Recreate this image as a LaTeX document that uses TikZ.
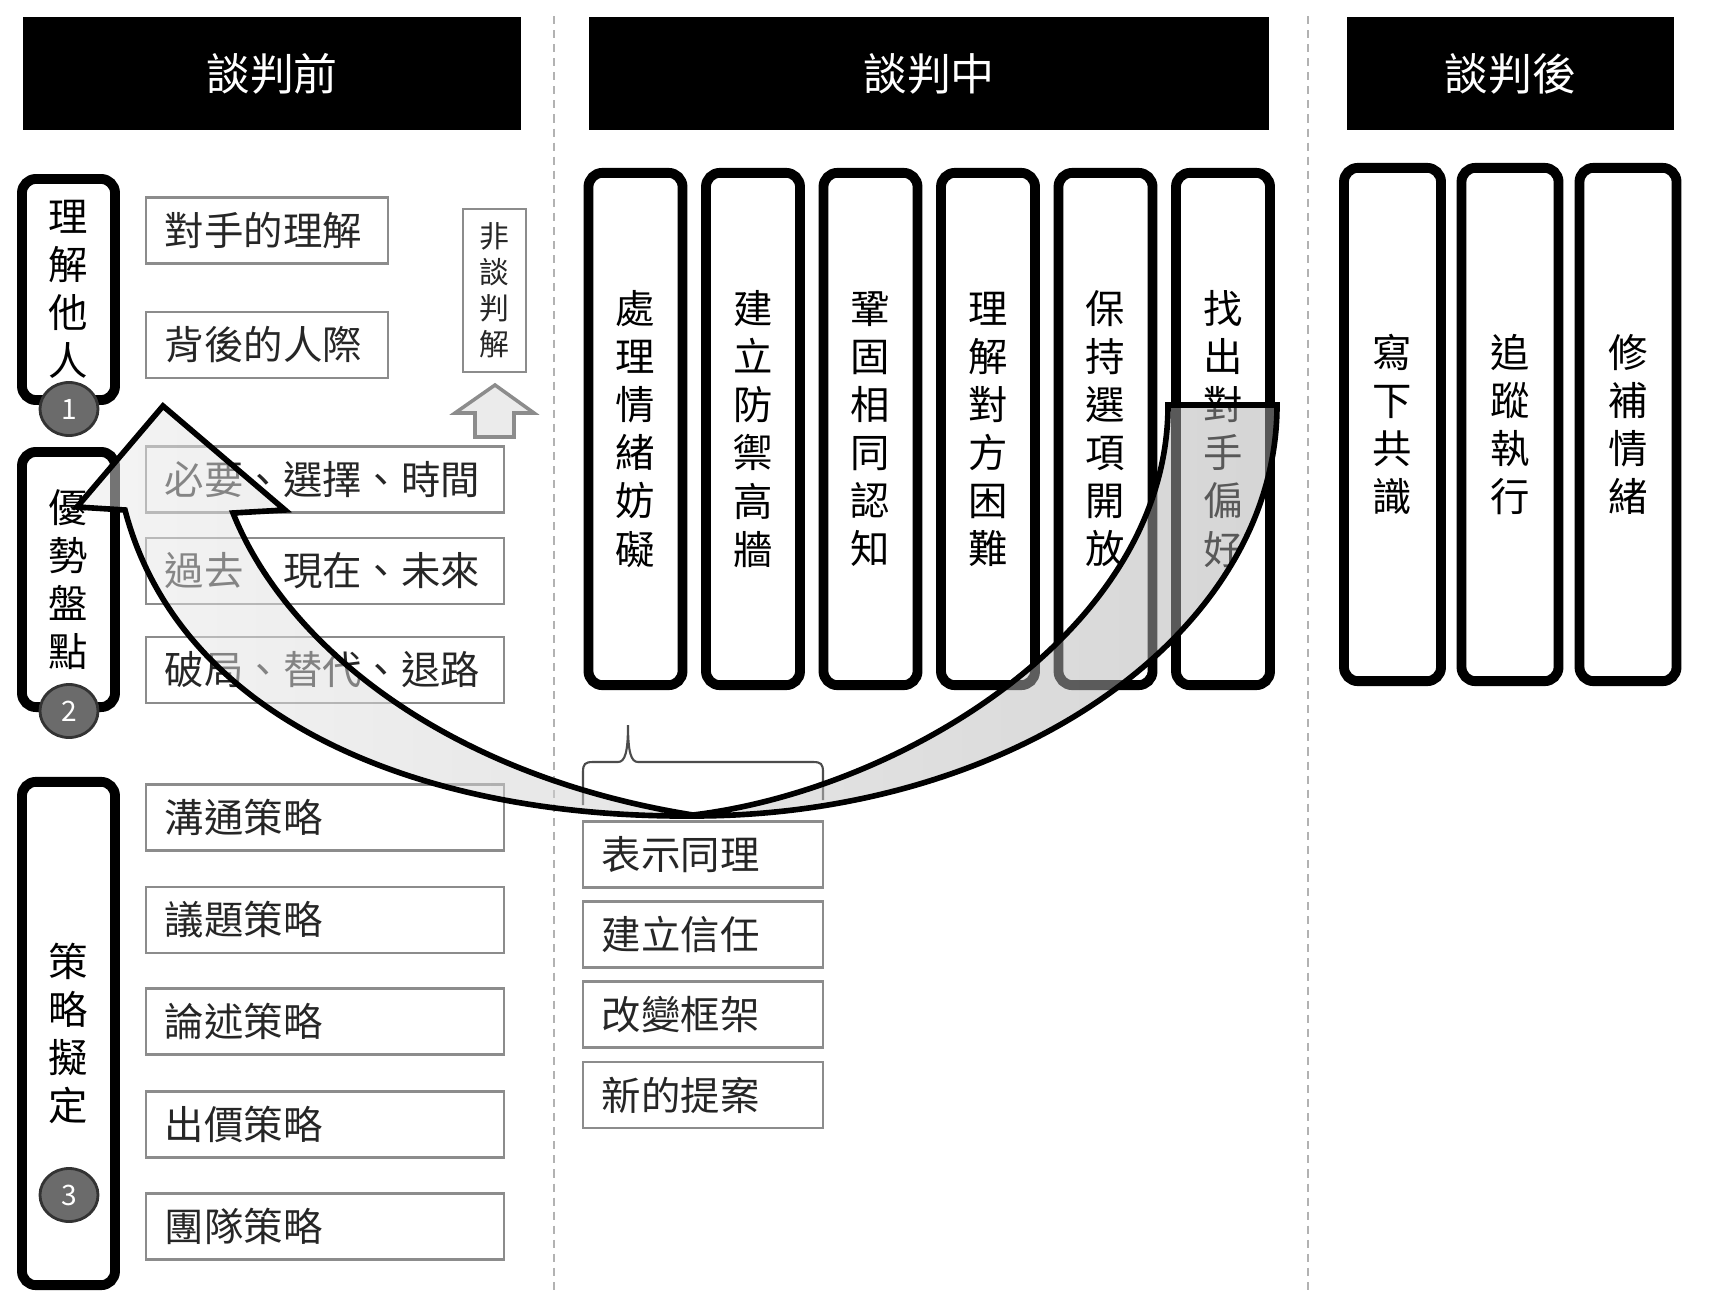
\documentclass[tikz,border=0pt]{standalone}
\usepackage{fontspec}
\setmainfont{Noto Sans CJK TC}
\usetikzlibrary{shapes.geometric}

\begin{document}
\begin{tikzpicture}[
    x=0.01cm, y=-0.01cm,
    every node/.style={font=\fontsize{11.2}{13.66}\selectfont},
    phasebar/.style={fill=black, text=white, minimum height=1.13cm, inner sep=0pt, font=\fontsize{12.5}{15}\selectfont},
    stagebox/.style={draw=black, line width=2.8pt, rounded corners=0.14cm, fill=white, align=center, inner sep=0pt},
    itembox/.style={draw=black!45, line width=0.7pt, fill=white, minimum height=0.66cm, inner xsep=0.19cm, inner ysep=0pt, text width=#1, align=left, text=black!85},
    sidebox/.style={draw=black!45, line width=0.7pt, fill=white, minimum width=0.63cm, minimum height=1.63cm, inner sep=0pt, align=center, text=black!85, font=\fontsize{8.5}{10.25}\selectfont},
    stepnum/.style={ellipse, draw=black!80, line width=0.8pt, fill=black!58, text=white, minimum width=0.58cm, minimum height=0.53cm, inner sep=0pt, font=\fontsize{8}{9}\selectfont},
    sepline/.style={black!30, line width=0.6pt, dash pattern=on 2.3pt off 1.7pt},
    bracket/.style={black!70, line width=0.6pt},
    blockup/.style={draw=black!45, line width=1pt, fill=black!8},
    bigarrow/.style={draw=black, line width=1.6pt, line join=miter, left color=black!8, right color=black!32, fill opacity=0.5},
]
\useasboundingbox[fill=white] (0,0) rectangle (1712,1306);

% Phase separators
\draw[sepline] (554,16) -- (554,1290);
\draw[sepline] (1308,16) -- (1308,1290);

% Phase headers
\node[phasebar, minimum width=4.98cm] (before) at (272,73.5) {談判前};
\node[phasebar, minimum width=6.79cm] (during) at (929,73.5) {談判中};
\node[phasebar, minimum width=3.27cm] (after) at (1510.5,73.5) {談判後};

% Before: stages
\node[stagebox, minimum width=0.93cm, minimum height=2.21cm] (know) at (68.5,289.5) {理\\解\\他\\人};
\node[stagebox, minimum width=0.93cm, minimum height=2.55cm] (asset) at (68.5,579.5) {優\\勢\\盤\\點};
\node[stagebox, minimum width=0.93cm, minimum height=5.03cm] (plan) at (68.5,1033.5) {策\\略\\擬\\定};
\node[stepnum] (n1) at (69,409) {1};
\node[stepnum] (n2) at (69,711) {2};
\node[stepnum] (n3) at (69,1195) {3};

% Before: items
\node[itembox=2.04cm] (opp) at (267,230.5) {對手的理解};
\node[itembox=2.04cm] (rel) at (267,345) {背後的人際};
\node[sidebox] (nonneg) at (494.5,290.5) {非\\談\\判\\解};
\draw[blockup] (495,385) -- (534,413) -- (514,413) -- (514,437) -- (475,437) -- (475,413) -- (455,413) -- cycle;
\node[itembox=3.2cm] (need) at (325,479.5) {必要、選擇、時間};
\node[itembox=3.2cm] (span) at (325,571) {過去、現在、未來};
\node[itembox=3.2cm] (exit) at (325,670) {破局、替代、退路};
\node[itembox=3.2cm] (talk) at (325,817.5) {溝通策略};
\node[itembox=3.2cm] (issue) at (325,920) {議題策略};
\node[itembox=3.2cm] (argue) at (325,1021.5) {論述策略};
\node[itembox=3.2cm] (offer) at (325,1124.5) {出價策略};
\node[itembox=3.2cm] (team) at (325,1226.5) {團隊策略};

% During: stages
\node[stagebox, minimum width=0.94cm, minimum height=5.12cm] (emo) at (635.5,429) {處\\理\\情\\緒\\妨\\礙};
\node[stagebox, minimum width=0.94cm, minimum height=5.12cm] (wall) at (753,429) {建\\立\\防\\禦\\高\\牆};
\node[stagebox, minimum width=0.94cm, minimum height=5.12cm] (common) at (870.5,429) {鞏\\固\\相\\同\\認\\知};
\node[stagebox, minimum width=0.94cm, minimum height=5.12cm] (hard) at (988,429) {理\\解\\對\\方\\困\\難};
\node[stagebox, minimum width=0.94cm, minimum height=5.12cm] (open) at (1105.5,429) {保\\持\\選\\項\\開\\放};
\node[stagebox, minimum width=0.94cm, minimum height=5.12cm] (pref) at (1223,429) {找\\出\\對\\手\\偏\\好};

% During: ways to handle emotion
\node[itembox=2.02cm] (empathy) at (703,854.5) {表示同理};
\node[itembox=2.02cm] (trust) at (703,934.5) {建立信任};
\node[itembox=2.02cm] (reframe) at (703,1014.5) {改變框架};
\node[itembox=2.02cm] (newprop) at (703,1095) {新的提案};
\draw[bracket] (583,805) -- (583,772) .. controls (583,764) and (585,762) .. (593,762) -- (618,762)
    .. controls (625,762) and (628,752) .. (628,725) .. controls (628,752) and (631,762) .. (638,762)
    -- (813,762) .. controls (821,762) and (823,764) .. (823,772) -- (823,800);

% After: stages
\node[stagebox, minimum width=0.97cm, minimum height=5.13cm] (record) at (1392.5,424.5) {寫\\下\\共\\識};
\node[stagebox, minimum width=0.97cm, minimum height=5.13cm] (track) at (1510,424.5) {追\\蹤\\執\\行};
\node[stagebox, minimum width=0.97cm, minimum height=5.13cm] (mend) at (1628,424.5) {修\\補\\情\\緒};

% Curved arrow: preference back to assets
\path[bigarrow] (1168,405) -- (1277,405) .. controls (1277,632) and (1016,816) .. (693,816)
    .. controls (420,818) and (180,720) .. (125,510) -- (77,507) -- (163,406) -- (285,510) -- (233,513)
    .. controls (285,643) and (443,775) .. (693,815) .. controls (900,790) and (1168,631) .. cycle;
\end{tikzpicture}
\end{document}
